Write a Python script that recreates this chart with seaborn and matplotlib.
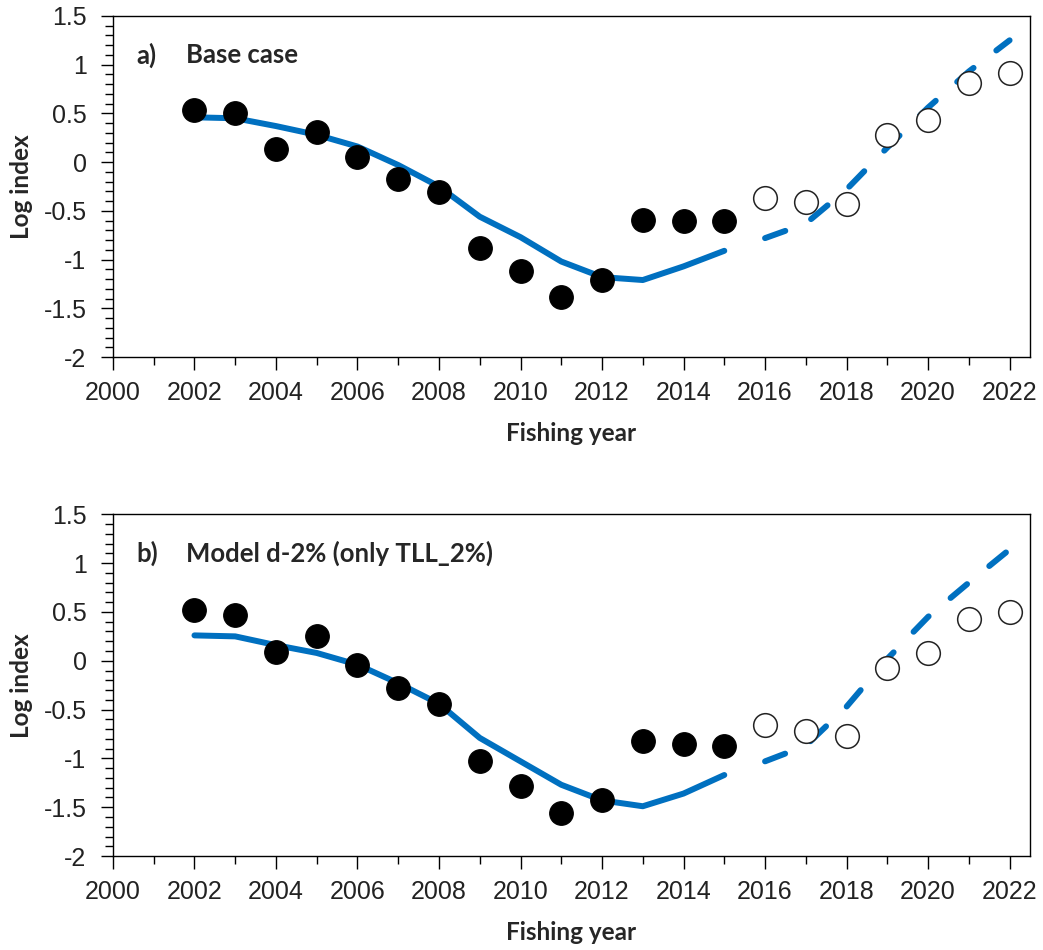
import numpy as np
import pandas as pd
import matplotlib
matplotlib.use("Agg")
import matplotlib.pyplot as plt
from matplotlib.ticker import MultipleLocator
import seaborn as sns

# Years
obs_years = [2002, 2003, 2004, 2005, 2006, 2007, 2008, 2009, 2010, 2011, 2012, 2013, 2014, 2015]
proj_years = [2016, 2017, 2018, 2019, 2020, 2021, 2022]

# a) Base case
a_obs = [0.54, 0.50, 0.13, 0.31, 0.05, -0.17, -0.31, -0.88, -1.12, -1.38, -1.21, -0.59, -0.60, -0.60]
a_new = [-0.37, -0.41, -0.43, 0.28, 0.43, 0.81, 0.91]
a_fit = [0.46, 0.45, 0.37, 0.28, 0.16, -0.03, -0.25, -0.56, -0.77, -1.02, -1.18, -1.21, -1.07, -0.91]
a_proj = [-0.78, -0.63, -0.28, 0.15, 0.56, 0.93, 1.25]

# b) Model d-2% (only TLL_2%)
b_obs = [0.52, 0.47, 0.09, 0.25, -0.04, -0.28, -0.44, -1.03, -1.28, -1.56, -1.43, -0.82, -0.85, -0.87]
b_new = [-0.66, -0.72, -0.77, -0.07, 0.08, 0.43, 0.50]
b_fit = [0.26, 0.25, 0.16, 0.08, -0.04, -0.23, -0.44, -0.79, -1.03, -1.27, -1.43, -1.49, -1.36, -1.17]
b_proj = [-1.03, -0.87, -0.47, 0.02, 0.45, 0.80, 1.14]

panels = [
    ("a)", "Base case", a_obs, a_new, a_fit, a_proj),
    ("b)", "Model d-2% (only TLL_2%)", b_obs, b_new, b_fit, b_proj),
]

sns.set_style("ticks")
plt.rcParams["font.family"] = ["Liberation Sans", "DejaVu Sans"]

blue = "#0070C0"
label_font = dict(family=["Lato", "DejaVu Sans"], fontweight="bold")

fig = plt.figure(figsize=(10.43, 9.5), dpi=100)
boxes = [[0.1083, 0.6242, 0.8792, 0.3590], [0.1083, 0.0989, 0.8792, 0.3597]]

for box, (tag, title, obs, new, fit, proj) in zip(boxes, panels):
    ax = fig.add_axes(box)

    sns.lineplot(x=obs_years, y=fit, color=blue, linewidth=4.3,
                 solid_capstyle="round", ax=ax, zorder=2)
    sns.lineplot(x=proj_years, y=proj, color=blue, linewidth=4.3,
                 linestyle=(0, (3.6, 4.8)), dash_capstyle="round", ax=ax, zorder=2)
    sns.scatterplot(x=obs_years, y=obs, color="black", s=290, edgecolor="black",
                    linewidth=0.8, ax=ax, zorder=3)
    sns.scatterplot(x=proj_years, y=new, color="white", s=290, edgecolor="#222222",
                    linewidth=1.1, ax=ax, zorder=3)

    ax.set_xlim(2000, 2022.5)
    ax.set_ylim(-2, 1.5)
    ax.xaxis.set_major_locator(MultipleLocator(2))
    ax.xaxis.set_minor_locator(MultipleLocator(1))
    ax.yaxis.set_major_locator(MultipleLocator(0.5))
    ax.yaxis.set_minor_locator(MultipleLocator(0.1))
    ax.yaxis.set_major_formatter(plt.FuncFormatter(lambda v, p: f"{v:g}"))

    ax.tick_params(axis="both", which="major", direction="out", length=9, width=1,
                   color="black", labelsize=18, labelcolor="#222222")
    ax.tick_params(axis="both", which="minor", direction="out", length=6, width=1,
                   color="black")
    ax.tick_params(axis="x", which="major", pad=8)
    ax.tick_params(axis="y", which="major", pad=10)
    for s in ax.spines.values():
        s.set_visible(True)
        s.set_color("black")
        s.set_linewidth(1.0)

    ax.set_xlabel("Fishing year", fontsize=17.5, **label_font)
    ax.set_ylabel("Log index", fontsize=17.5, **label_font)
    ax.xaxis.set_label_coords(0.5, -0.19)
    ax.yaxis.set_label_coords(-0.087, 0.5)

    ax.text(0.026, 0.885, tag, transform=ax.transAxes, fontsize=18.5,
            va="center", ha="left", **label_font)
    ax.text(0.08, 0.885, title, transform=ax.transAxes, fontsize=18.5,
            va="center", ha="left", **label_font)

fig.savefig("out.png", dpi=100)
